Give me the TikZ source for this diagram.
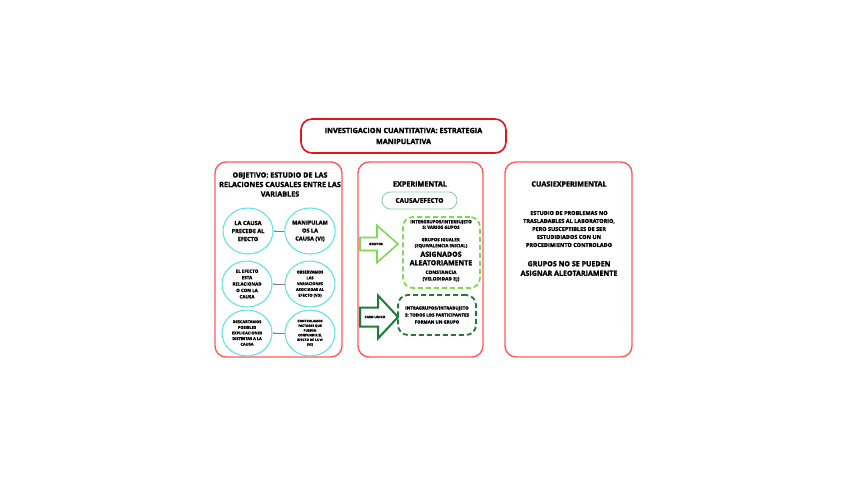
\documentclass[tikz,border=0pt]{standalone}
\usepackage{fontspec}
\setmainfont{Open Sans}[BoldFeatures={FakeBold=1.6}]
\usetikzlibrary{arrows.meta,positioning,shapes.geometric}

\definecolor{titlered}{RGB}{232,18,28}
\definecolor{panelred}{RGB}{255,90,90}
\definecolor{bubblecyan}{RGB}{92,225,230}
\definecolor{lightgreen}{RGB}{126,217,87}
\definecolor{darkgreen}{RGB}{22,128,55}
\definecolor{palegreen}{RGB}{150,205,160}

\tikzset{
  txt/.style={align=center, inner sep=0pt, font=\bfseries\fontsize{#1}{#1}\selectfont},
  panel/.style={draw=panelred, line width=1.4pt, rounded corners=11pt, minimum width=127pt, minimum height=195pt},
  bubble/.style={ellipse, draw=bubblecyan, line width=1pt, minimum width=50pt, minimum height=46pt, inner sep=0pt, align=center},
  dashbox/.style={draw=#1, line width=1.8pt, dash pattern=on 5pt off 3pt, rounded corners=10pt},
  blockarrow/.style={draw=#1, line width=1.6pt, line join=miter, fill=white},
  connector/.style={draw=gray, line width=0.5pt, -{Stealth[length=2.2pt,width=2pt]}}
}

\begin{document}
\begin{tikzpicture}[x=1pt, y=-1pt]
\fill[white] (0,0) rectangle (848,477);
\useasboundingbox (0,0) rectangle (848,477);

% title
\node[draw=titlered, line width=1.6pt, rounded corners=11pt, minimum width=205pt, minimum height=34pt] (title) at (403.5,136) {};
\node[txt=7, font=\bfseries\fontsize{7.3}{11}\selectfont] (titletxt) at (title.center) {INVESTIGACION CUANTITATIVA: ESTRATEGIA\\MANIPULATIVA};

% three columns
\node[panel] (objetivo) at (278.5,259.5) {};
\node[panel, minimum width=125pt] (experimental) at (420.5,259.5) {};
\node[panel] (cuasi) at (568.5,259.5) {};

% objetivo
\node[txt=7.5, font=\bfseries\fontsize{7.2}{9.5}\selectfont] (objtxt) at (280,184.5) {OBJETIVO: ESTUDIO DE LAS\\RELACIONES CAUSALES ENTRE LAS\\VARIABLES};

\node[bubble, font=\bfseries\fontsize{5.6}{8}\selectfont] (precede) at (248,231) {LA CAUSA\\PRECEDE AL\\EFECTO};
\node[bubble, font=\bfseries\fontsize{5.6}{8}\selectfont] (manipulamos) at (310,231) {MANIPULAM\\OS LA\\CAUSA (VI)};
\node[bubble, font=\bfseries\fontsize{4.5}{6.4}\selectfont] (relacionado) at (247,284) {EL EFECTO\\ESTA\\RELACIONAD\\O CON LA\\CAUSA};
\node[bubble, font=\bfseries\fontsize{3.9}{5.8}\selectfont] (observamos) at (310,284) {OBSERVAMOS\\LAS\\VARIACIONES\\ASOCIADAS AL\\EFECTO (VD)};
\node[bubble, font=\bfseries\fontsize{3.9}{5.6}\selectfont] (descartamos) at (247,333) {DESCARTAMOS\\POSIBLES\\EXPLICACIONES\\DISTINTAS A LA\\CAUSA};
\node[bubble, font=\bfseries\fontsize{3.2}{4.7}\selectfont] (controlamos) at (310,333) {CONTROLAMOS\\FACTORES QUE\\PUEDEN\\CONFUNDIR EL\\EFECTO DE LA VI\\(VE)};

\draw[connector] (manipulamos) -- (precede);
\draw[connector] (observamos) -- (relacionado);
\draw[connector] (controlamos) -- (descartamos);

% experimental
\node[txt=7.2] (exptxt) at (420,184) {EXPERIMENTAL};
\node[draw=palegreen, line width=0.8pt, rounded corners=8.5pt, minimum width=75pt, minimum height=17pt, txt=6.5] (causa) at (419.5,200.5) {CAUSA/EFECTO};

\node[dashbox=lightgreen, minimum width=77pt, minimum height=71pt] (inter) at (441.5,252.5) {};
\node[txt=4.4, font=\bfseries\fontsize{4.4}{5.6}\selectfont] (intertxt) at (441,224.5) {INTERGRUPOS/INTERSUJETO\\S: VARIOS GUPOS};
\node[txt=4.4, font=\bfseries\fontsize{4.4}{6}\selectfont] (iguales) at (441,243) {GRUPOS IGUALES:\\(EQUIVALENCIA INICIAL)};
\node[txt=7, font=\bfseries\fontsize{7}{8.5}\selectfont] (asignados) at (441,258.5) {ASIGNADOS\\ALEATORIAMENTE};
\node[txt=4.8, font=\bfseries\fontsize{4.8}{6.5}\selectfont] (constancia) at (441,276) {CONSTANCIA\\(VELODIDAD EJ)};

\node[dashbox=darkgreen, minimum width=78pt, minimum height=40pt] (intra) at (437,315) {};
\node[txt=4.4, font=\bfseries\fontsize{4.4}{7}\selectfont] (intratxt) at (intra.center) {INTRAGRUPOS/INTRADUJETO\\S: TODOS LOS PARTICIPANTES\\FORMAN UN GRUPO};

% block arrows
\draw[blockarrow=lightgreen] (360,237.5) -- (377,237.5) -- (377,225.5) -- (398,244) -- (377,262.5) -- (377,250.5) -- (360,250.5) -- cycle;
\node[txt=3.3] (grupos) at (376,244) {GRUPOS};
\draw[blockarrow=darkgreen, line width=2pt] (360,307.5) -- (378,307.5) -- (378,295.5) -- (398,317) -- (378,338.5) -- (378,326.5) -- (360,326.5) -- cycle;
\node[txt=3.3] (caso) at (375,317) {CASO UNICO};

% cuasiexperimental
\node[txt=7.2] (cuasitxt) at (569,184) {CUASIEXPERIMENTAL};
\node[txt=5.3, font=\bfseries\fontsize{5.5}{8}\selectfont] (estudio) at (569,229) {ESTUDIO DE PROBLEMAS NO\\TRASLADABLES AL LABORATORIO,\\PERO SUSCEPTIBLES DE SER\\ESTUDIDIADOS CON UN\\PROCEDIMIENTO CONTROLADO};
\node[txt=7, font=\bfseries\fontsize{7.1}{9.5}\selectfont] (nogrupos) at (569,268.5) {GRUPOS NO SE PUEDEN\\ASIGNAR ALEOTARIAMENTE};
\end{tikzpicture}
\end{document}
